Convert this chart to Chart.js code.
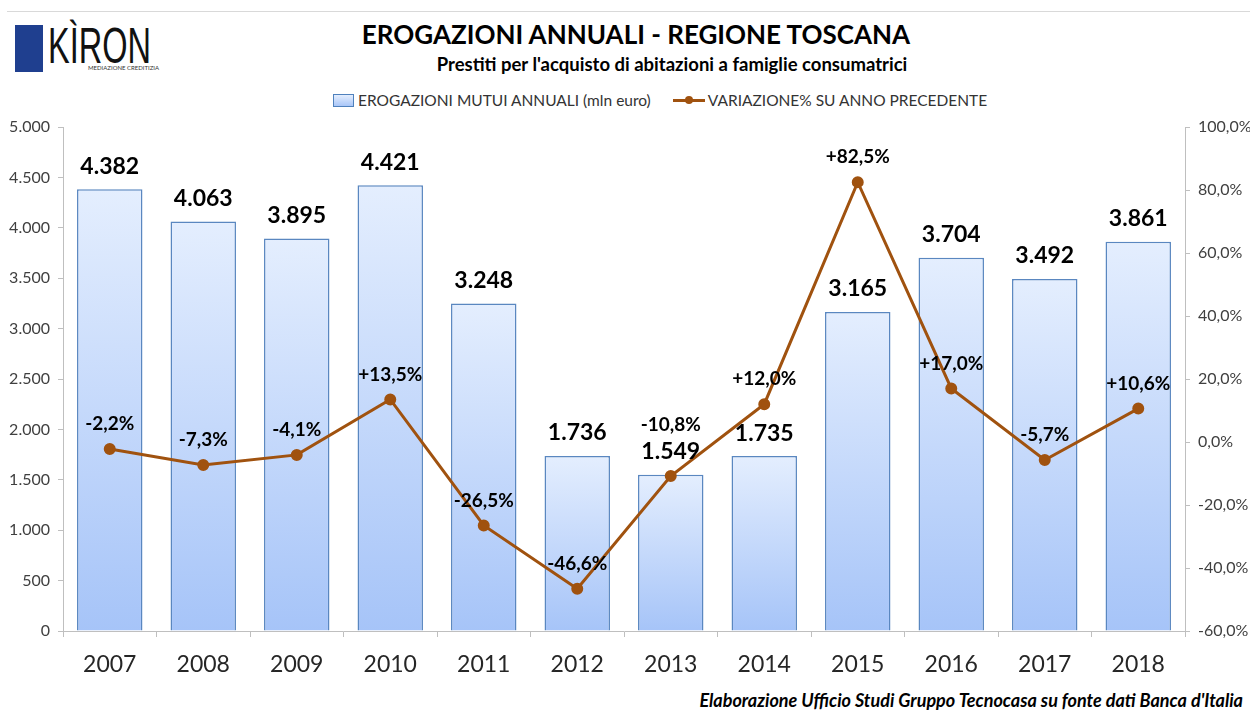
<!DOCTYPE html>
<html>
<head>
<meta charset="utf-8">
<script src="https://cdn.jsdelivr.net/npm/chart.js@4"></script>
<style>
  body { margin: 0; background: #fff; font-family: Lato, "Open Sans", sans-serif; }
  #wrap { position: relative; width: 1250px; height: 711px; overflow: hidden; }
  #topline { position: absolute; left: 7px; right: 0; top: 11px; height: 1px; background: #d9d9d9; }
  .abs { position: absolute; white-space: nowrap; }
  #logoBox { left: 15px; top: 25px; width: 28px; height: 47px; background: #1f3f8f; }
  #logoTxt { left: 48px; top: 17px; font: 50px "Liberation Sans", sans-serif; color: #111; transform: scaleX(0.65); transform-origin: left top; }
  #logoSub { left: 88px; top: 64px; font: 6px Lato, sans-serif; color: #333; }
  #title { left: 0; width: 1272px; top: 18px; text-align: center; font: bold 26px Lato, sans-serif; color: #000; }
  #subtitle { left: 0; width: 1344px; top: 53px; text-align: center; font: bold 18.5px Lato, sans-serif; color: #000; }
  #legend { left: 333px; top: 91px; font: 15.5px Lato, sans-serif; color: #333; display: flex; align-items: center; }
  .swatch { display: inline-block; width: 19px; height: 11px; border: 1px solid #4f81bd; background: linear-gradient(#e4eefe, #a9c6f8); margin-right: 4px; }
  .lineSym { display: inline-block; position: relative; width: 32px; height: 3px; background: #a0520f; margin: 0 3px 0 22px; }
  .lineSym::after { content: ""; position: absolute; left: 12px; top: -3px; width: 8px; height: 8px; border-radius: 50%; background: #a0520f; }
  #footer { right: 7px; top: 689px; font: italic bold 18px Lato, sans-serif; color: #000; }
</style>
</head>
<body>
<div id="wrap">
  <div id="topline"></div>
  <div id="logoBox" class="abs"></div>
  <div id="logoTxt" class="abs">KÌRON</div>
  <div id="logoSub" class="abs">MEDIAZIONE CREDITIZIA</div>
  <div id="title" class="abs">EROGAZIONI ANNUALI - REGIONE TOSCANA</div>
  <div id="subtitle" class="abs">Prestiti per l'acquisto di abitazioni a famiglie consumatrici</div>
  <div id="legend" class="abs"><span class="swatch"></span>EROGAZIONI MUTUI ANNUALI (mln euro)<span class="lineSym"></span>VARIAZIONE% SU ANNO PRECEDENTE</div>
  <div id="footer" class="abs">Elaborazione Ufficio Studi Gruppo Tecnocasa su fonte dati Banca d'Italia</div>
  <canvas id="chart" width="1250" height="711" style="position:absolute;left:0;top:0;"></canvas>
</div>
<script>
const years = ['2007', '2008', '2009', '2010', '2011', '2012', '2013', '2014', '2015', '2016', '2017', '2018'];
const erogazioni = [4382, 4063, 3895, 4421, 3248, 1736, 1549, 1735, 3165, 3704, 3492, 3861];
const variazione = [-2.2, -7.3, -4.1, 13.5, -26.5, -46.6, -10.8, 12.0, 82.5, 17.0, -5.7, 10.6];

function fmtThousands(v) {
  const s = String(Math.round(Math.abs(v)));
  const out = s.replace(/\B(?=(\d{3})+(?!\d))/g, '.');
  return (v < 0 ? '-' : '') + out;
}
function fmtPct(v, sign) {
  const s = Math.abs(v).toFixed(1).replace('.', ',');
  if (v < 0) return '-' + s + '%';
  return (sign && v > 0 ? '+' : '') + s + '%';
}

// etichette valori sopra barre e punti
const labelPlugin = {
  id: 'valueLabels',
  afterDatasetsDraw(chart) {
    const ctx = chart.ctx;
    ctx.save();
    ctx.textAlign = 'center';
    ctx.textBaseline = 'middle';
    ctx.fillStyle = '#000';
    const bars = chart.getDatasetMeta(1).data;
    const pts = chart.getDatasetMeta(0).data;
    ctx.font = 'bold 23px Lato, sans-serif';
    const barLabelY = bars.map(b => b.y - 23);
    bars.forEach((b, i) => ctx.fillText(fmtThousands(erogazioni[i]), b.x, barLabelY[i]));
    ctx.font = 'bold 19px Lato, sans-serif';
    pts.forEach((p, i) => {
      let y = p.y - 25;
      // se si sovrappone all'etichetta della barra, sposta sopra
      if (Math.abs(y - barLabelY[i]) < 22) y = barLabelY[i] - 27;
      ctx.fillText(fmtPct(variazione[i], true), p.x, y);
    });
    ctx.restore();
  }
};

new Chart(document.getElementById('chart'), {
  type: 'bar',
  data: {
    labels: years,
    datasets: [{
      type: 'line',
      label: 'VARIAZIONE% SU ANNO PRECEDENTE',
      data: variazione,
      yAxisID: 'y1',
      borderColor: '#a0520f',
      backgroundColor: '#a0520f',
      borderWidth: 3,
      pointRadius: 4.5,
      pointHoverRadius: 4.5,
      tension: 0,
      order: 0
    }, {
      label: 'EROGAZIONI MUTUI ANNUALI (mln euro)',
      data: erogazioni,
      yAxisID: 'y',
      backgroundColor(c) {
        const chart = c.chart;
        if (!chart.chartArea || c.dataIndex === undefined) return '#c4d8fa';
        const ys = chart.scales.y;
        const top = ys.getPixelForValue(erogazioni[c.dataIndex]);
        const bot = ys.getPixelForValue(0);
        const g = chart.ctx.createLinearGradient(0, top, 0, bot);
        g.addColorStop(0, '#e4eefe');
        g.addColorStop(1, '#a6c4f8');
        return g;
      },
      borderColor: '#5a87c0',
      borderWidth: 1.5,
      barPercentage: 0.7,
      categoryPercentage: 1,
      order: 1
    }]
  },
  options: {
    responsive: false,
    animation: false,
    layout: { padding: { top: 127, left: 0, right: 0, bottom: 0 } },
    plugins: { legend: { display: false }, tooltip: { enabled: false } },
    scales: {
      x: {
        grid: { drawOnChartArea: false, color: '#bfbfbf', tickLength: 6, offset: true },
        border: { color: '#bfbfbf' },
        ticks: { color: '#262626', font: { family: 'Lato', size: 23 }, padding: 14 },
        afterFit(s) { s.height = 80; }
      },
      y: {
        position: 'left',
        min: 0, max: 5000,
        ticks: { stepSize: 500, color: '#404040', font: { family: 'Lato', size: 16 }, padding: 8, callback: v => fmtThousands(v) },
        grid: { drawOnChartArea: false, color: '#bfbfbf', tickLength: 5 },
        border: { color: '#bfbfbf' },
        afterFit(s) { s.width = 63; }
      },
      y1: {
        position: 'right',
        min: -60, max: 100,
        ticks: { stepSize: 20, color: '#404040', font: { family: 'Lato', size: 16 }, padding: 8, callback: v => fmtPct(v, false) },
        grid: { drawOnChartArea: false, color: '#bfbfbf', tickLength: 5 },
        border: { color: '#bfbfbf' },
        afterFit(s) { s.width = 65; }
      }
    }
  },
  plugins: [labelPlugin]
});
</script>
</body>
</html>
